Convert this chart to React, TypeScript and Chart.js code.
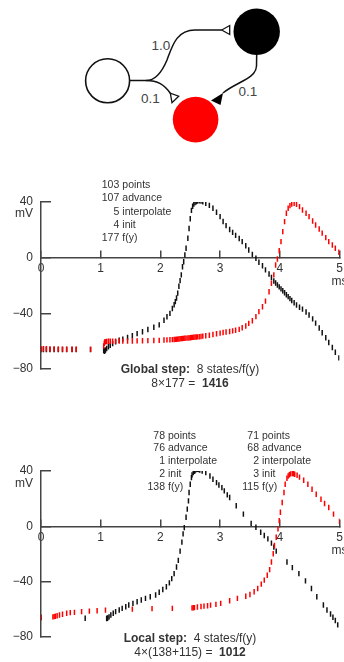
import React, { useEffect, useRef } from 'react';
import { Chart, registerables } from 'chart.js';

Chart.register(...registerables);

const FONT = '"Liberation Sans", Arial, Helvetica, sans-serif';
const TEXT = '#333';
const AXIS = '#444';
const BLACK = '#111';
const RED = '#ff0000';

// ---------- data: global step (shared time points) ----------
const globalTime = [
  0.0, 0.04, 0.09, 0.15, 0.22, 0.29, 0.36, 0.43, 0.52, 0.59, 0.83,
  1.05, 1.06, 1.07, 1.08, 1.1, 1.13, 1.16, 1.2, 1.25, 1.31, 1.37, 1.45, 1.53, 1.61, 1.7, 1.79, 1.89, 1.98,
  2.06, 2.11, 2.16, 2.2, 2.23, 2.25, 2.27, 2.29, 2.31, 2.33, 2.35, 2.37, 2.39, 2.41, 2.43, 2.46, 2.48,
  2.5, 2.52, 2.54, 2.56, 2.58, 2.6, 2.62, 2.65, 2.68, 2.71, 2.76, 2.82, 2.88, 2.94,
  3.0, 3.05, 3.1, 3.16, 3.21, 3.26, 3.32, 3.37, 3.43, 3.48, 3.54, 3.6, 3.65, 3.71, 3.76, 3.82, 3.86, 3.9,
  3.93, 3.96, 3.99, 4.02, 4.05, 4.08, 4.11, 4.14, 4.17, 4.2, 4.24, 4.28, 4.33, 4.38, 4.44, 4.49,
  4.55, 4.6, 4.66, 4.71, 4.77, 4.82, 4.88, 4.93, 4.99,
];
const globalBlack = [
  -66.0, -66.0, -66.0, -66.0, -66.0, -66.0, -66.0, -66.0, -66.0, -66.0, -66.0,
  -66.5, -67.2, -67.0, -66.4, -65.3, -64.0, -63.0, -61.8, -60.5, -59.3, -58.5, -57.3, -56.1, -54.6, -53.2, -51.6, -50.0, -48.3,
  -45.0, -42.5, -40.0, -36.5, -33.8, -31.6, -29.0, -25.5, -20.5, -16.5, -12.4, -6.5, -2.9, 2.0, 6.8, 14.0, 21.0,
  28.0, 34.0, 37.0, 38.6, 39.6, 40.2, 40.6, 40.8, 40.6, 40.1, 39.1, 37.6, 35.5, 32.6,
  29.5, 26.0, 23.0, 20.2, 18.2, 16.0, 13.8, 11.5, 8.6, 5.5, 2.4, -0.4, -3.3, -5.8, -8.8, -11.7, -14.3, -16.8,
  -18.2, -19.6, -21.0, -22.4, -23.8, -25.2, -26.6, -28.0, -29.4, -30.8, -32.4, -34.0, -35.6, -37.0, -39.0, -41.2,
  -44.0, -47.0, -50.5, -54.0, -57.5, -61.0, -64.5, -68.0, -72.0,
];
const globalRed = [
  -65.5, -65.5, -65.5, -65.6, -65.6, -65.7, -65.7, -65.8, -65.8, -65.8, -65.9,
  -63.5, -61.5, -60.6, -60.3, -60.2, -60.1, -60.1, -60.0, -60.0, -60.0, -60.0, -60.0, -59.9, -59.8, -59.7, -59.6, -59.5, -59.4,
  -59.2, -59.1, -59.0, -58.9, -58.8, -58.7, -58.6, -58.5, -58.4, -58.3, -58.2, -58.1, -58.0, -57.9, -57.8, -57.7, -57.6,
  -57.5, -57.4, -57.3, -57.2, -57.1, -57.0, -56.9, -56.8, -56.6, -56.4, -56.1, -55.7, -55.2, -54.7,
  -54.2, -53.8, -53.4, -53.0, -52.6, -52.2, -51.5, -50.4, -49.1, -47.2, -45.3, -42.4, -38.8, -35.3, -31.2, -24.5, -18.4, -12.4,
  -5.3, -1.0, 5.0, 11.5, 18.7, 25.9, 31.9, 35.5, 37.4, 38.6, 39.1, 38.4, 36.7, 34.3, 31.9, 29.5,
  26.4, 23.5, 20.6, 17.6, 14.4, 11.5, 9.1, 6.8, 3.9,
];

// ---------- data: local step (each cell has its own time points) ----------
const localBlackTime = [
  0.0, 0.74, 1.1, 1.11, 1.12, 1.14, 1.17, 1.21, 1.25, 1.31, 1.36, 1.42, 1.47, 1.54, 1.61, 1.68, 1.75, 1.83, 1.92, 1.98,
  2.04, 2.1, 2.15, 2.19, 2.23, 2.27, 2.3, 2.33, 2.36, 2.38, 2.4, 2.43, 2.45, 2.47, 2.48, 2.5, 2.52, 2.53, 2.55, 2.57,
  2.58, 2.6, 2.62, 2.64, 2.66, 2.7, 2.76, 2.83, 2.88, 2.94, 2.98, 3.03, 3.07, 3.12, 3.16, 3.27, 3.39, 3.52,
  3.6, 3.68, 3.74, 3.8, 3.86, 3.9, 3.94, 4.12, 4.21, 4.32, 4.43, 4.53, 4.62, 4.73, 4.79, 4.85, 4.89, 4.93, 4.97,
];
const localBlack = [
  -66.0, -66.6, -66.8, -66.6, -66.3, -65.6, -64.2, -63.0, -61.8, -60.6, -59.4, -58.2, -57.0, -55.8, -54.6, -53.4, -52.2, -51.0, -49.8, -47.8,
  -45.8, -43.8, -41.0, -37.9, -34.3, -29.5, -24.7, -18.0, -11.5, -5.5, -1.0, 6.5, 12.4, 18.4, 24.4, 30.4, 35.2, 37.2, 38.8, 39.8,
  40.4, 41.0, 41.2, 41.0, 40.7, 40.0, 38.8, 36.4, 34.0, 31.6, 29.9, 28.0, 25.6, 22.7, 20.8, 14.8, 8.8, 2.1,
  -0.7, -4.3, -6.7, -9.1, -12.2, -15.1, -18.0, -25.9, -29.9, -34.3, -39.5, -45.0, -51.0, -57.0, -60.6, -63.5, -65.9, -68.2, -71.4,
];
const localRedTime = [
  0.0, 0.2, 0.22, 0.24, 0.27, 0.31, 0.36, 0.43, 0.49, 0.56, 0.68, 0.81, 0.94, 1.08, 1.53, 1.86, 2.2,
  2.53, 2.55, 2.57, 2.62, 2.68, 2.73, 2.79, 2.84, 2.93, 3.01, 3.16, 3.29, 3.43, 3.5, 3.57, 3.63, 3.69, 3.74,
  3.79, 3.83, 3.86, 3.89, 3.91, 3.94, 3.97, 3.99, 4.01, 4.04, 4.07, 4.09, 4.12, 4.14, 4.16, 4.18, 4.21, 4.23,
  4.25, 4.29, 4.33, 4.4, 4.47, 4.54, 4.61, 4.69, 4.75, 4.82, 4.9, 5.0,
];
const localRed = [
  -66.0, -65.6, -65.4, -65.1, -64.8, -64.2, -63.7, -63.0, -62.5, -62.3, -61.8, -61.4, -61.1, -60.7, -60.0, -59.6, -59.4,
  -59.1, -59.0, -58.9, -58.4, -58.1, -57.8, -57.5, -57.1, -56.5, -55.8, -53.9, -52.2, -50.6, -49.4, -47.4, -45.0, -41.9, -39.0,
  -35.5, -31.4, -25.9, -19.9, -13.9, -7.9, -1.9, 4.1, 10.1, 17.2, 24.4, 30.4, 34.7, 36.4, 37.3, 37.9, 38.1, 38.0,
  37.6, 36.9, 35.6, 33.3, 30.4, 26.8, 23.2, 19.6, 16.5, 13.6, 8.8, 3.6,
];

// ---------- axis / text content ----------
const xMin = 0;
const xMax = 5;
const xStep = 1;
const yMin = -80;
const yMax = 40;
const yStep = 40;
const xUnit = 'ms';
const yUnit = 'mV';
const statNames = ['points', 'advance', 'interpolate', 'init', 'f(y)'];
const globalStats = ['103', '107', '5', '4', '177'];
const localBlackStats = ['78', '76', '1', '2', '138'];
const localRedStats = ['71', '68', '2', '3', '115'];
const weightLabels = ['1.0', '0.1', '0.1'];

const pts = (t: number[], v: number[]) => t.map((x, i) => ({ x, y: v[i] }));

function dashSet(data: { x: number; y: number }[], color: string) {
  return {
    data,
    showLine: false,
    pointStyle: 'line',
    pointRotation: 90,
    pointRadius: 2.7,
    pointHoverRadius: 2.7,
    pointBorderWidth: 1.5,
    pointBorderColor: color,
    pointBackgroundColor: color,
    borderColor: color,
    backgroundColor: color,
  };
}

function TraceChart(props: {
  top: number;
  height: number;
  padTop: number;
  padBottom: number;
  datasets: any[];
}) {
  const ref = useRef<HTMLCanvasElement | null>(null);
  useEffect(() => {
    if (!ref.current) return;
    const tickFont = { family: FONT, size: 12, lineHeight: 1.08 };
    const chart = new Chart(ref.current, {
      type: 'scatter',
      data: { datasets: props.datasets },
      options: {
        responsive: false,
        animation: false,
        events: [],
        layout: { padding: { left: 0, right: 19, top: props.padTop, bottom: props.padBottom } },
        plugins: { legend: { display: false }, tooltip: { enabled: false } },
        scales: {
          x: {
            type: 'linear',
            min: xMin,
            max: xMax,
            position: { y: 0 },
            ticks: {
              stepSize: xStep,
              autoSkip: false,
              maxRotation: 0,
              padding: 12.5,
              color: TEXT,
              font: tickFont,
              callback: (v: any) => (Number(v) === xMax ? [String(v), xUnit] : String(v)),
            },
            grid: {
              display: true,
              drawOnChartArea: false,
              drawTicks: true,
              tickLength: -8,
              color: AXIS,
              lineWidth: 1.5,
            },
            border: { display: true, color: AXIS, width: 1.5 },
          },
          y: {
            type: 'linear',
            min: yMin,
            max: yMax,
            position: 'left',
            afterFit: (s: any) => {
              s.width = 41;
            },
            ticks: {
              stepSize: yStep,
              padding: 18,
              color: TEXT,
              font: { family: FONT, size: 12 },
              callback: (v: any) => (Number(v) < 0 ? '\u2212' + Math.abs(Number(v)) : String(v)),
            },
            grid: {
              display: true,
              drawOnChartArea: false,
              drawTicks: true,
              tickLength: -10,
              color: AXIS,
              lineWidth: 1.5,
            },
            border: { display: true, color: AXIS, width: 1.5 },
          },
        },
      } as any,
    });
    return () => chart.destroy();
  }, []);
  return (
    <canvas
      ref={ref}
      width={360}
      height={props.height}
      style={{ position: 'absolute', left: 0, top: props.top, width: 360, height: props.height }}
    />
  );
}

function StatBlock(props: { nums: string[]; right: number; top: number; lh: number }) {
  return (
    <div
      style={{
        position: 'absolute',
        left: 0,
        width: 344,
        top: props.top,
        fontSize: 10.5,
        lineHeight: props.lh + 'px',
      }}
    >
      {props.nums.map((n, i) => (
        <div key={i} style={{ position: 'relative', width: 344, height: props.lh }}>
          <span style={{ position: 'absolute', right: 344 - props.right, top: 0, whiteSpace: 'nowrap' }}>{n}</span>
          <span style={{ position: 'absolute', left: props.right + 3, top: 0, whiteSpace: 'nowrap' }}>
            {statNames[i]}
          </span>
        </div>
      ))}
    </div>
  );
}

function Caption(props: { top: number; bold1: string; rest1: string; rest2: string; bold2: string }) {
  return (
    <div
      style={{
        position: 'absolute',
        left: 90,
        width: 200,
        top: props.top,
        textAlign: 'center',
        fontSize: 12,
        lineHeight: '14px',
        whiteSpace: 'nowrap',
      }}
    >
      <div>
        <b>{props.bold1}</b>
        {'\u00a0\u00a0' + props.rest1}
      </div>
      <div>
        {props.rest2 + '\u00a0\u00a0'}
        <b>{props.bold2}</b>
      </div>
    </div>
  );
}

function UnitLabel(props: { top: number }) {
  return (
    <div
      style={{
        position: 'absolute',
        left: 0,
        width: 33,
        top: props.top,
        textAlign: 'right',
        fontSize: 12,
        lineHeight: '14px',
      }}
    >
      {yUnit}
    </div>
  );
}

function Diagram() {
  return (
    <svg width={344} height={160} style={{ position: 'absolute', left: 0, top: 0 }}>
      <path
        d="M129.8,80.6 L146,80.6 C156,80.6 162,72 167,60 C172,47 176,30 195,30 L221.7,30"
        fill="none"
        stroke={BLACK}
        strokeWidth={1.5}
      />
      <path d="M146,80.6 C158,80.6 164,84.5 170.3,93.2" fill="none" stroke={BLACK} strokeWidth={1.5} />
      <path d="M256.7,54 L256.5,66 C256,79 236,82 223,93" fill="none" stroke={BLACK} strokeWidth={1.5} />
      <polygon points="221.7,30 229.7,25.5 229.7,34.5" fill="#fff" stroke={BLACK} strokeWidth={1.3} />
      <polygon points="170.3,93.2 172,102.6 178.7,96.2" fill="#fff" stroke={BLACK} strokeWidth={1.3} />
      <polygon points="223,93 220.5,105 211,100.5" fill="#000" />
      <circle cx={107.6} cy={80.8} r={22} fill="#fff" stroke={BLACK} strokeWidth={1.6} />
      <circle cx={256.7} cy={31.7} r={23.2} fill="#000" />
      <circle cx={195.6} cy={119.6} r={22.8} fill={RED} />
      <text x={160.8} y={50} textAnchor="middle" fontSize={13.5} fill="#444" fontFamily={FONT}>
        {weightLabels[0]}
      </text>
      <text x={150.5} y={103} textAnchor="middle" fontSize={13.5} fill="#444" fontFamily={FONT}>
        {weightLabels[1]}
      </text>
      <text x={248} y={95.5} textAnchor="middle" fontSize={13.5} fill="#444" fontFamily={FONT}>
        {weightLabels[2]}
      </text>
    </svg>
  );
}

export default function App() {
  const globalSets = [dashSet(pts(globalTime, globalRed), RED), dashSet(pts(globalTime, globalBlack), BLACK)];
  const localSets = [dashSet(pts(localRedTime, localRed), RED), dashSet(pts(localBlackTime, localBlack), BLACK)];
  return (
    <div
      style={{
        position: 'absolute',
        left: 0,
        top: 0,
        width: 344,
        height: 662,
        overflow: 'hidden',
        background: '#fff',
        fontFamily: FONT,
        color: TEXT,
      }}
    >
      <Diagram />
      <TraceChart top={170} height={230} padTop={32} padBottom={31} datasets={globalSets} />
      <TraceChart top={440} height={222} padTop={31} padBottom={24} datasets={localSets} />
      <UnitLabel top={206.3} />
      <UnitLabel top={475.7} />
      <StatBlock nums={globalStats} right={119.3} top={178.2} lh={13.2} />
      <StatBlock nums={localBlackStats} right={165} top={428.5} lh={12.9} />
      <StatBlock nums={localRedStats} right={259} top={428.5} lh={12.9} />
      <Caption top={362.3} bold1="Global step:" rest1="8 states/f(y)" rest2={'8\u00d7177 ='} bold2="1416" />
      <Caption top={631.3} bold1="Local step:" rest1="4 states/f(y)" rest2={'4\u00d7(138+115) ='} bold2="1012" />
    </div>
  );
}
